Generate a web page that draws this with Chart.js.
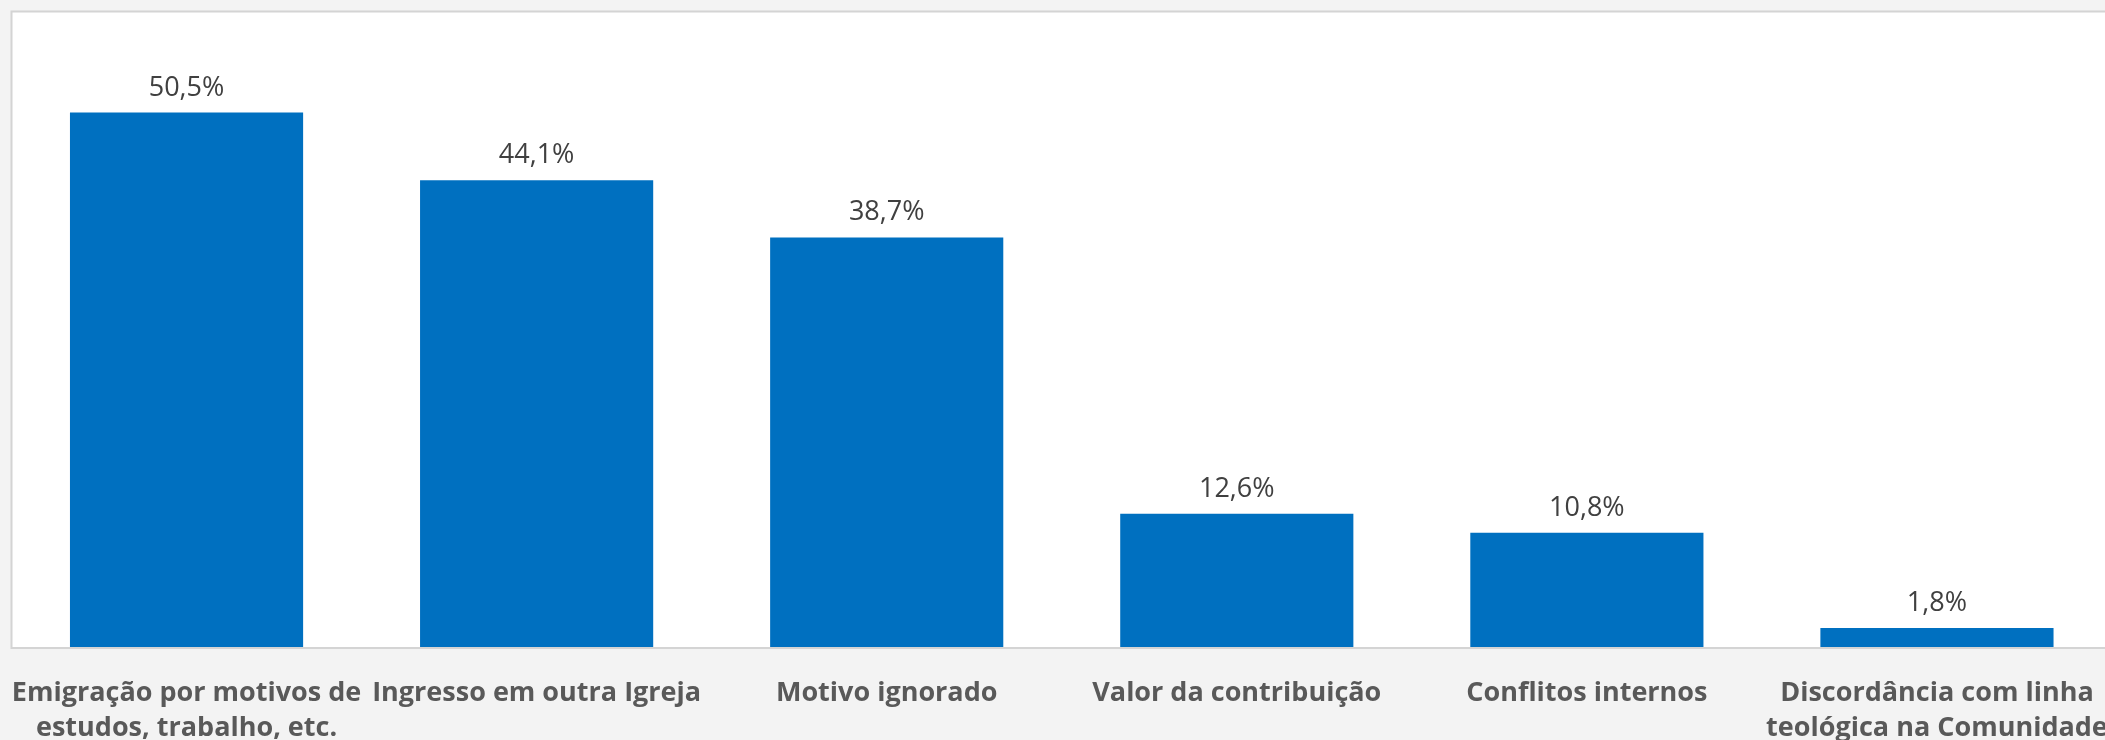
<!DOCTYPE html>
<html>
<head>
<meta charset="utf-8">
<script src="https://cdn.jsdelivr.net/npm/chart.js@4"></script>
<style>
  html, body { margin: 0; padding: 0; background: #f3f3f3; overflow: hidden; }
  #wrap { position: absolute; left: 0; top: 0; width: 2125px; height: 745px; }
</style>
</head>
<body>
<div id="wrap"><canvas id="chart"></canvas></div>
<script>
// Motivos de saída (%)
const categories = [
  ['Emigração por motivos de', 'estudos, trabalho, etc.'],
  'Ingresso em outra Igreja',
  'Motivo ignorado',
  'Valor da contribuição',
  'Conflitos internos',
  ['Discordância com linha', 'teológica na Comunidade']
];
const values = [50.5, 44.1, 38.7, 12.6, 10.8, 1.8];
const yRange = [0, 60];

// white plot box with thin grey frame, like the spreadsheet original
const plotBox = {
  id: 'plotBox',
  beforeDraw(chart) {
    const { ctx, chartArea: a } = chart;
    ctx.save();
    ctx.fillStyle = '#ffffff';
    ctx.fillRect(a.left, a.top, a.right - a.left + 20, a.bottom - a.top + 1);
    ctx.strokeStyle = '#d4d4d4';
    ctx.lineWidth = 2;
    ctx.strokeRect(a.left, a.top - 0.5, a.right - a.left + 20, a.bottom - a.top + 1.5);
    ctx.restore();
  }
};

// value labels above the bars, with comma decimals
const valueLabels = {
  id: 'valueLabels',
  afterDatasetsDraw(chart) {
    const { ctx } = chart;
    const meta = chart.getDatasetMeta(0);
    ctx.save();
    ctx.font = '27px "Open Sans", sans-serif';
    ctx.fillStyle = '#404040';
    ctx.textAlign = 'center';
    ctx.textBaseline = 'alphabetic';
    meta.data.forEach((bar, i) => {
      const txt = values[i].toFixed(1).replace('.', ',') + '%';
      ctx.fillText(txt, bar.x, bar.y - 17);
    });
    ctx.restore();
  }
};

new Chart(document.getElementById('chart').getContext('2d'), {
  type: 'bar',
  data: {
    labels: categories,
    datasets: [{
      data: values,
      backgroundColor: '#0070c0',
      borderWidth: 0,
      categoryPercentage: 1,
      barPercentage: 0.666
    }]
  },
  options: {
    responsive: true,
    maintainAspectRatio: false,
    animation: false,
    layout: { padding: { left: 11.5, right: 13, top: 12, bottom: 0 } },
    plugins: {
      legend: { display: false },
      tooltip: { enabled: false }
    },
    scales: {
      x: {
        grid: { display: false, drawTicks: false },
        border: { display: false },
        ticks: {
          color: '#595959',
          padding: 29,
          maxRotation: 0,
          autoSkip: false,
          font: { family: '"Open Sans", sans-serif', size: 27, weight: 'bold', lineHeight: 35 / 27 }
        },
        // labels may overhang the plot edges; keep the plot box where it is
        afterFit(scale) {
          scale.paddingLeft = 0;
          scale.paddingRight = 0;
          scale.height = 28 + 70;
        }
      },
      y: {
        display: false,
        min: yRange[0],
        max: yRange[1]
      }
    }
  },
  plugins: [plotBox, valueLabels]
});
</script>
</body>
</html>
